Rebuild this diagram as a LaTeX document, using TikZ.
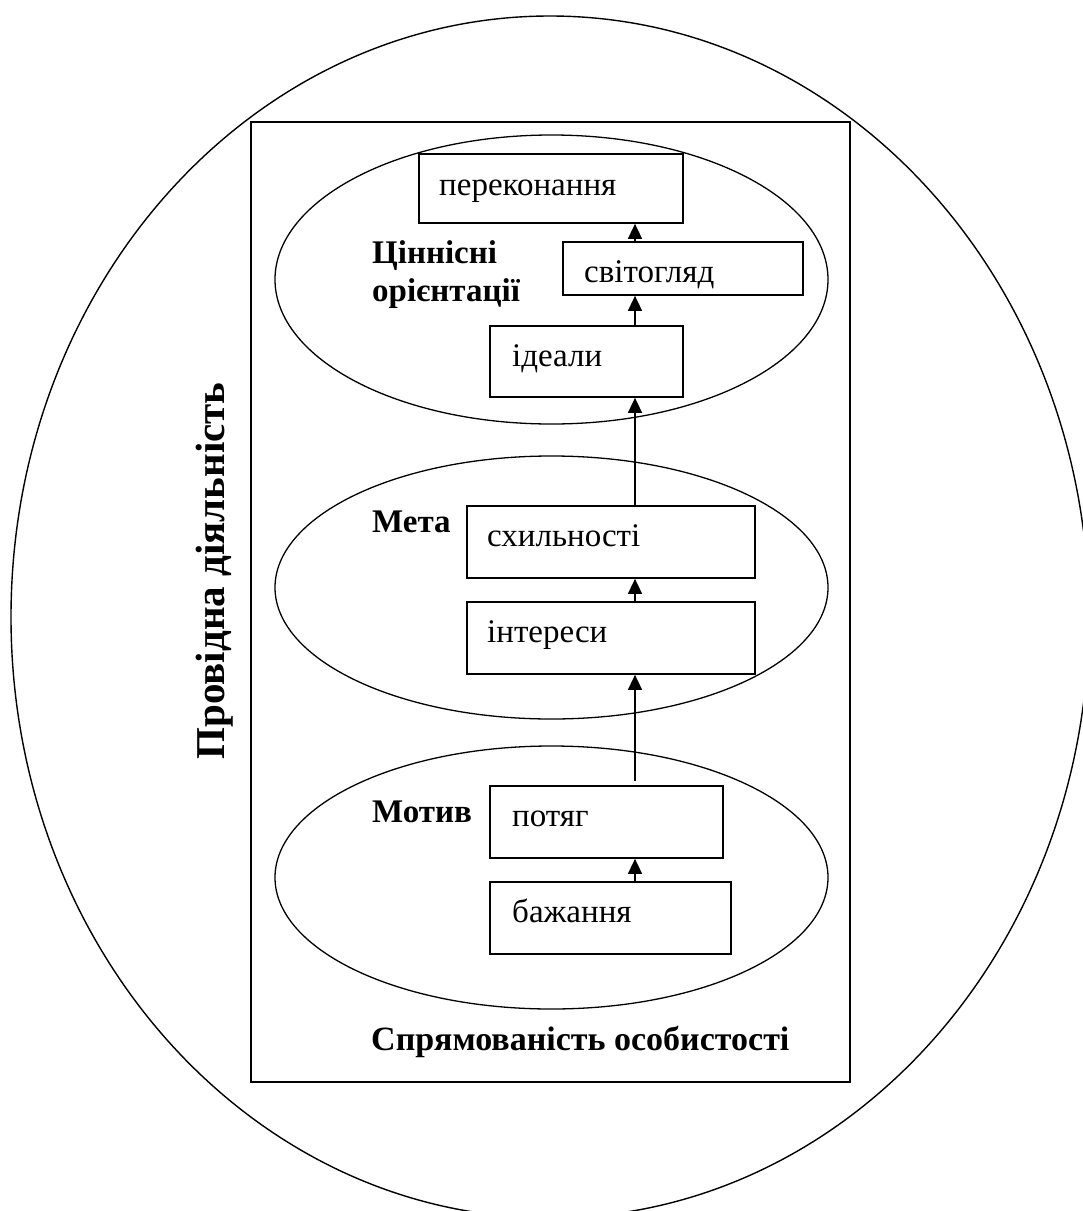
\documentclass[tikz,border=0pt]{standalone}
\usepackage{fontspec}
\setmainfont{Liberation Serif}
\usetikzlibrary{shapes.geometric,arrows.meta}

\tikzset{
  outer/.style={draw, ellipse, line width=1.4pt, minimum width=1078pt, minimum height=1202pt, inner sep=0pt},
  frame/.style={draw, line width=1.8pt},
  group/.style={draw, ellipse, line width=1.3pt, minimum width=553pt, inner sep=0pt},
  itembox/.style={draw, line width=1.7pt, fill=white, inner sep=0pt},
  itemtext/.style={anchor=base west, inner sep=0pt, font=\fontsize{33}{38}\selectfont},
  grouptitle/.style={anchor=base west, inner sep=0pt, align=left, font=\fontsize{33}{38}\selectfont\bfseries},
  uparrow/.style={line width=1.5pt, -{Triangle[length=15pt,width=14pt]}}
}

\begin{document}
\begin{tikzpicture}[x=1pt, y=-1pt]
  \useasboundingbox (0,0) rectangle (1083,1211);
  \clip (0,0) rectangle (1083,1211);

  % outer field: leading activity
  \node[outer] (lead) at (550,617) {};
  \node[rotate=90, anchor=base, inner sep=0pt, font=\fontsize{41}{45}\selectfont\bfseries] (leadtxt) at (224,571) {Провідна діяльність};

  % personality orientation frame
  \node[frame, minimum width=599pt, minimum height=960pt, inner sep=0pt] (orient) at (550.5,602) {};
  \node[anchor=base west, inner sep=0pt, font=\fontsize{34}{40}\selectfont\bfseries] (orienttxt) at (371,1050) {Спрямованість особистості};

  % three groups
  \node[group, minimum height=289pt] (values) at (551.5,279.5) {};
  \node[group, minimum height=263pt] (goal) at (551.5,587.5) {};
  \node[group, minimum height=263pt] (motive) at (551.5,877.5) {};

  \node[grouptitle, anchor=north west] (valuestxt) at (372,240) {Ціннісні\\орієнтації};
  \node[grouptitle] (goaltxt) at (372,532) {Мета};
  \node[grouptitle] (motivetxt) at (372,822) {Мотив};

  % item boxes
  \node[itembox, minimum width=264pt, minimum height=69pt] (perek) at (551,188.5) {};
  \node[itembox, minimum width=240pt, minimum height=53pt] (svit) at (683,268.5) {};
  \node[itembox, minimum width=193pt, minimum height=71pt] (ideal) at (586.5,361.5) {};
  \node[itembox, minimum width=288pt, minimum height=72pt] (skhyl) at (611,542) {};
  \node[itembox, minimum width=288pt, minimum height=72pt] (inter) at (611,638) {};
  \node[itembox, minimum width=233pt, minimum height=72pt] (potiah) at (606.5,822) {};
  \node[itembox, minimum width=241pt, minimum height=72pt] (bazh) at (610.5,918) {};

  \node[itemtext] (perektxt) at (439,195) {переконання};
  \node[itemtext] (svittxt) at (584,282) {світогляд};
  \node[itemtext] (idealtxt) at (512,366) {ідеали};
  \node[itemtext] (skhyltxt) at (487,546) {схильності};
  \node[itemtext] (intertxt) at (487,642) {інтереси};
  \node[itemtext] (potiahtxt) at (512,826) {потяг};
  \node[itemtext] (bazhtxt) at (512,922) {бажання};

  % upward links along one vertical line
  \coordinate (ax) at (635,0);
  \draw[uparrow] (svit.north -| ax) -- (perek.south -| ax);
  \draw[uparrow] (ideal.north -| ax) -- (svit.south -| ax);
  \draw[uparrow] (skhyl.north -| ax) -- (ideal.south -| ax);
  \draw[uparrow] (inter.north -| ax) -- (skhyl.south -| ax);
  \draw[uparrow] ([yshift=4pt]potiah.north -| ax) -- (inter.south -| ax);
  \draw[uparrow] (bazh.north -| ax) -- (potiah.south -| ax);
\end{tikzpicture}
\end{document}
